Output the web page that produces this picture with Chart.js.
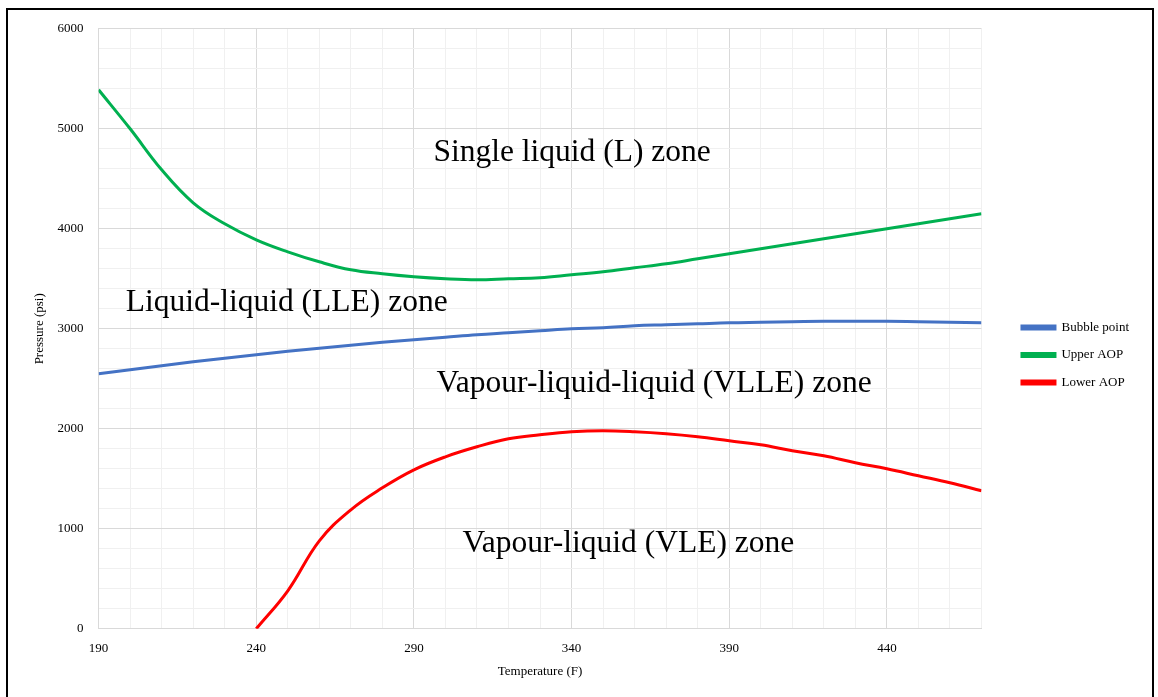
<!DOCTYPE html>
<html>
<head>
<meta charset="utf-8">
<title>Phase envelope</title>
<script src="https://cdn.jsdelivr.net/npm/chart.js@4.4.1/dist/chart.umd.min.js"></script>
<style>
  html, body { margin: 0; padding: 0; background: #fff; overflow: hidden; }
  #frame {
    position: absolute; left: 6px; top: 8px; width: 1148px; height: 700px;
    border: 2px solid #000; box-sizing: border-box;
  }
  #chart { position: absolute; left: 0; top: -4px; }
</style>
</head>
<body>
<div id="frame"><canvas id="chart" width="1144" height="691"></canvas></div>
<script>
// Temperature (F) sample points
const tempBubble = [190, 200, 210, 220, 230, 240, 250, 260, 270, 280, 290, 300, 310, 320, 330,
  340, 350, 360, 370, 380, 390, 400, 410, 420, 430, 440, 450, 460, 470];
const bubblePoint = [2550, 2590, 2630, 2670, 2705, 2740, 2775, 2805, 2835, 2865, 2890, 2915, 2940, 2960, 2980,
  3000, 3010, 3030, 3040, 3050, 3060, 3065, 3070, 3075, 3075, 3075, 3070, 3065, 3060];

const tempUpper = tempBubble;
const upperAOP = [5390, 5000, 4590, 4260, 4050, 3890, 3770, 3670, 3590, 3550, 3520, 3500, 3490, 3500, 3510,
  3540, 3570, 3610, 3650, 3700, 3750, 3800, 3850, 3900, 3950, 4000, 4050, 4100, 4150];

const tempLower = [240, 250, 260, 270, 280, 290, 300, 310, 320, 330, 340, 350, 360,
  370, 380, 390, 400, 410, 420, 430, 440, 450, 460, 470];
const lowerAOP = [0, 380, 880, 1190, 1410, 1590, 1720, 1820, 1900, 1940, 1970, 1980, 1970,
  1950, 1920, 1880, 1840, 1780, 1730, 1660, 1600, 1530, 1460, 1380];

// Zone labels: text, anchor temperature, anchor pressure
const zoneText = ["Single liquid (L) zone", "Liquid-liquid (LLE) zone",
  "Vapour-liquid-liquid (VLLE) zone", "Vapour-liquid (VLE) zone"];
const zoneT = [296.2, 198.6, 297.2, 305.4];
const zoneP = [4760, 3260, 2450, 850];

const xMin = 190, xMax = 470, xMajor = 50, xMinor = 10;
const yMin = 0, yMax = 6000, yMajor = 1000, yMinor = 200;

const serif = "'Liberation Serif', 'Times New Roman', serif";

function pts(xs, ys) {
  return xs.map((x, i) => ({ x: x, y: ys[i] }));
}

const zoneLabels = {
  id: "zoneLabels",
  afterDatasetsDraw(chart) {
    const ctx = chart.ctx;
    const xs = chart.scales.x, ys = chart.scales.y;
    ctx.save();
    ctx.fillStyle = "#000";
    ctx.font = "31.5px " + serif;
    ctx.textAlign = "left";
    ctx.textBaseline = "middle";
    zoneText.forEach((t, i) => {
      ctx.fillText(t, xs.getPixelForValue(zoneT[i]), ys.getPixelForValue(zoneP[i]));
    });
    ctx.restore();
  }
};

const lineStyle = { borderWidth: 3, pointRadius: 0, showLine: true, fill: false, tension: 0.4 };

new Chart(document.getElementById("chart"), {
  type: "scatter",
  data: {
    datasets: [
      Object.assign({ label: "Bubble point", data: pts(tempBubble, bubblePoint),
        borderColor: "#4472C4", backgroundColor: "#4472C4" }, lineStyle),
      Object.assign({ label: "Upper AOP", data: pts(tempUpper, upperAOP),
        borderColor: "#00B050", backgroundColor: "#00B050" }, lineStyle),
      Object.assign({ label: "Lower AOP", data: pts(tempLower, lowerAOP),
        borderColor: "#FF0000", backgroundColor: "#FF0000" }, lineStyle)
    ]
  },
  options: {
    responsive: false,
    animation: false,
    layout: { padding: { left: 20, right: 13, top: 6, bottom: 14 } },
    plugins: {
      tooltip: { enabled: false },
      legend: {
        position: "right",
        // blank title only nudges the entries down a little
        title: { display: true, text: "", font: { size: 15, lineHeight: 1 }, padding: 0 },
        labels: {
          boxWidth: 33, boxHeight: 3, padding: 14.5,
          color: "#000", font: { family: serif, size: 13 }
        }
      }
    },
    scales: {
      x: {
        type: "linear", min: xMin, max: xMax,
        title: { display: true, text: "Temperature (F)", color: "#000", font: { family: serif, size: 13 }, padding: { top: -5, bottom: 4 } },
        ticks: {
          stepSize: xMinor, autoSkip: false, maxRotation: 0, padding: 12,
          color: "#000", font: { family: serif, size: 13 },
          callback: v => ((v - xMin) % xMajor === 0 ? String(v) : "")
        },
        grid: {
          drawTicks: false,
          color: c => ((c.tick.value - xMin) % xMajor === 0 ? "#d9d9d9" : "#f0f0f0"),
          lineWidth: 1
        },
        border: { color: "#d9d9d9" }
      },
      y: {
        type: "linear", min: yMin, max: yMax,
        title: { display: true, text: "Pressure (psi)", color: "#000", font: { family: serif, size: 13 }, padding: { top: 4, bottom: -5 } },
        ticks: {
          stepSize: yMinor, autoSkip: false, padding: 15,
          color: "#000", font: { family: serif, size: 13 },
          callback: v => (v % yMajor === 0 ? String(v) : "")
        },
        grid: {
          drawTicks: false,
          color: c => (c.tick.value % yMajor === 0 ? "#d9d9d9" : "#f0f0f0"),
          lineWidth: 1
        },
        border: { color: "#d9d9d9" }
      },
      // empty spacer axis keeping the legend clear of the plot
      gap: {
        type: "linear", position: "right", display: true,
        ticks: { display: false }, grid: { display: false }, border: { display: false },
        afterFit: scale => { scale.width = 26; }
      }
    }
  },
  plugins: [zoneLabels]
});
</script>
</body>
</html>
